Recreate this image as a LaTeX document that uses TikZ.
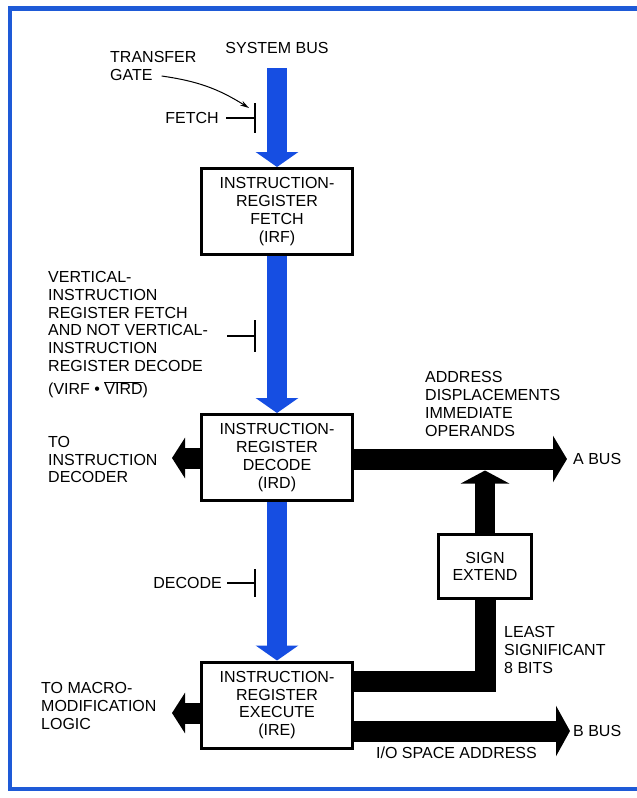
\documentclass[tikz,border=0pt]{standalone}
\usepackage{fontspec}
\setmainfont{Liberation Sans}
\usetikzlibrary{arrows.meta}
\definecolor{busblue}{RGB}{22,78,226}
\definecolor{frameblue}{RGB}{30,90,215}
\begin{document}
\begin{tikzpicture}[x=1pt,y=-1pt,
  lbl/.style={inner sep=0pt,font=\fontsize{16}{17.8}\selectfont,align=left},
  regbox/.style={draw,line width=3pt,fill=white,minimum width=151pt,minimum height=86pt,
     inner sep=0pt,align=center,font=\fontsize{16}{17.8}\selectfont},
  signbox/.style={regbox,minimum width=93pt,minimum height=64pt},
  bluebus/.style={draw=busblue,line width=20pt,-{Triangle[width=42pt,length=15pt]}},
  blackbus/.style={draw=black,line width=21pt,line join=miter,-{Triangle[width=46pt,length=14pt]}},
  blackbar/.style={draw=black,line width=21pt,line join=miter},
  gateline/.style={line width=1.4pt},
  frameline/.style={draw=frameblue,line width=4.5pt}
]
\useasboundingbox (0,0) rectangle (637,798);
\fill[white] (0,0) rectangle (637,798);
% frame
\draw[frameline] (637,8.5) -- (10,8.5) -- (10,789) -- (637,789);

% boxes
\node[regbox] (irf) at (277,211.5) {INSTRUCTION-\\REGISTER\\FETCH\\(IRF)};
\node[regbox] (ird) at (277,457.5) {INSTRUCTION-\\REGISTER\\DECODE\\(IRD)};
\node[regbox] (ire) at (277,705) {INSTRUCTION-\\REGISTER\\EXECUTE\\(IRE)};
\node[signbox] (sign) at (485,566.5) {SIGN\\EXTEND};

% labels
\node[lbl,anchor=center] (sysbus) at (277,48) {SYSTEM BUS};
\node[lbl,anchor=west] (transfer) at (110,66) {TRANSFER\\GATE};
\node[lbl,anchor=east] (fetch) at (219,118) {FETCH};
\node[lbl,anchor=west] (virf) at (48,321.5) {VERTICAL-\\INSTRUCTION\\REGISTER FETCH\\AND NOT VERTICAL-\\INSTRUCTION\\REGISTER DECODE};
\node[lbl,anchor=west] (virfeq) at (48,390) {(VIRF • $\overline{\hbox{VIRD}}$)};
\node[lbl,anchor=west] (addr) at (425,404) {ADDRESS\\DISPLACEMENTS\\IMMEDIATE\\OPERANDS};
\node[lbl,anchor=west] (abus) at (573,459) {A BUS};
\node[lbl,anchor=west] (todec) at (48,459.5) {TO\\INSTRUCTION\\DECODER};
\node[lbl,anchor=east] (decode) at (222,583) {DECODE};
\node[lbl,anchor=west] (least) at (504,650) {LEAST\\SIGNIFICANT\\8 BITS};
\node[lbl,anchor=west] (tomacro) at (41,706) {TO MACRO-\\MODIFICATION\\LOGIC};
\node[lbl,anchor=west] (bbus) at (573,731) {B BUS};
\node[lbl,anchor=west] (iospace) at (376,753) {I/O SPACE ADDRESS};

% coordinates
\coordinate (sysin) at (277,68);
\coordinate (atip) at (567,459);
\coordinate (ldtip) at (172,458);
\coordinate (uptip) at (485,470.5);
\coordinate (lsbcorner) at (485,681);
\coordinate (btip) at (570,731);
\coordinate (lmtip) at (172,713);
\coordinate (g1) at (255,118);
\coordinate (g2l) at (227,336);
\coordinate (g2) at (255,336);
\coordinate (g3) at (255,583);
\coordinate (gtip) at (249,108);

% blue buses
\draw[bluebus] (sysin) -- (irf.north);
\draw[bluebus] (irf.south) -- (ird.north);
\draw[bluebus] (ird.south) -- (ire.north);

% black buses
\draw[blackbus] (ird.east |- atip) -- (atip);
\draw[blackbus,-{Triangle[width=40pt,length=13pt]}] (ird.west |- ldtip) -- (ldtip);
\draw[blackbus,line width=20pt,-{Triangle[width=48pt,length=13pt]}] (sign.north) -- (uptip);
\draw[blackbar] (ire.east |- lsbcorner) -- ([xshift=0pt]lsbcorner) -- (sign.south);
\draw[blackbus,-{Triangle[width=50pt,length=14pt]}] (ire.east |- btip) -- (btip);
\draw[blackbus,-{Triangle[width=40pt,length=13pt]}] (ire.west |- lmtip) -- (lmtip);

% gates
\draw[gateline] (fetch.east) ++(7,0) -- (g1);
\draw[gateline] ([yshift=15pt]g1) -- ([yshift=-15pt]g1);
\draw[gateline] (g2l) -- (g2);
\draw[gateline] ([yshift=16pt]g2) -- ([yshift=-16pt]g2);
\draw[gateline] (decode.east) ++(5,0) -- (g3);
\draw[gateline] ([yshift=14pt]g3) -- ([yshift=-14pt]g3);
\draw[line width=1pt,-{Stealth[length=9pt,width=5pt]}] (transfer.east |- 0,76) ++(-35,0) to[bend left=12] (gtip);
\end{tikzpicture}
\end{document}
